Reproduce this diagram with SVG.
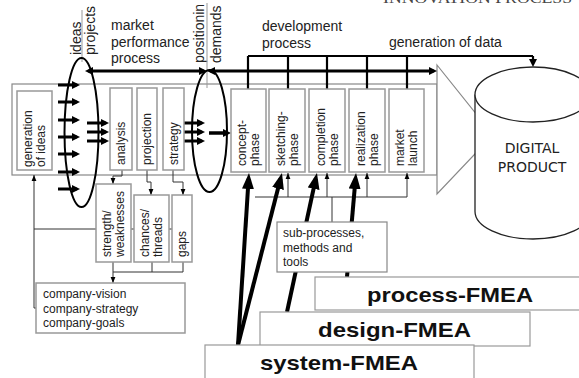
<svg xmlns="http://www.w3.org/2000/svg" width="579" height="378" viewBox="0 0 579 378">
<defs>
<style>
.box{fill:#fff;stroke:#999;stroke-width:1.5}
.frame{fill:#fff;stroke:#888;stroke-width:1.2}
.t{font-family:"Liberation Sans",Arial,sans-serif;fill:#222}
.s12{font-size:12px}
.s14{font-size:14px}
.fm{font-family:"Liberation Sans",Arial,sans-serif;font-weight:bold;font-size:21px;fill:#111;text-anchor:middle}
.thin{fill:none;stroke:#333;stroke-width:1}
.b3{fill:none;stroke:#000;stroke-width:3}
.b2{fill:none;stroke:#000;stroke-width:2.2}
.ell{fill:none;stroke:#000;stroke-width:2}
.fat{fill:none;stroke:#000;stroke-width:4}
.cyl{fill:#fff;stroke:#222;stroke-width:1.3}
</style>
<marker id="ah" markerUnits="userSpaceOnUse" markerWidth="8" markerHeight="8" viewBox="0 0 10 10" refX="6" refY="5" orient="auto-start-reverse"><path d="M0,0 L10,5 L0,10 Z" fill="#000"/></marker>
<marker id="ahs" markerUnits="userSpaceOnUse" markerWidth="6" markerHeight="6" viewBox="0 0 10 10" refX="10" refY="5" orient="auto"><path d="M0,1 L10,5 L0,9 Z" fill="#000"/></marker>
<marker id="ahb" markerUnits="userSpaceOnUse" markerWidth="16" markerHeight="12" viewBox="0 0 16 12" refX="10" refY="6" orient="auto"><path d="M0,0 L16,6 L0,12 Z" fill="#000"/></marker>
</defs>
<rect width="579" height="378" fill="#fff"/>

<text x="383" y="2.5" font-family="'Liberation Serif',serif" font-size="14" fill="#444" textLength="189" lengthAdjust="spacingAndGlyphs">INNOVATION PROCESS</text>

<g id="frame">
<rect class="frame" x="12" y="84" width="425" height="91"/>
<polygon class="frame" points="437,65 493,135 437,194"/>
</g>

<g id="labels">
<text class="t s14" transform="translate(81,55) rotate(-90)">ideas</text>
<text class="t s14" transform="translate(95,55) rotate(-90)">projects</text>
<text class="t s14" transform="translate(204,63) rotate(-90)">positionin</text>
<text class="t s14" transform="translate(221,63) rotate(-90)">demands</text>
<text class="t s14" x="111" y="30">market</text>
<text class="t s14" x="111" y="46.5">performance</text>
<text class="t s14" x="111" y="63">process</text>
<text class="t s14" x="262" y="31">development</text>
<text class="t s14" x="262" y="48">process</text>
<text class="t s14" x="389" y="47">generation of data</text>
</g>

<g id="connectors">
<line x1="82" y1="10" x2="82" y2="62" stroke="#999" stroke-width="1"/>
<line x1="207" y1="3" x2="207" y2="88" stroke="#999" stroke-width="1"/>
<line class="b3" x1="88.2" y1="71" x2="203.8" y2="71" marker-start="url(#ah)" marker-end="url(#ah)"/>
<line class="b3" x1="210.2" y1="71" x2="433.8" y2="71" marker-start="url(#ah)" marker-end="url(#ah)"/>
<path class="b2" d="M248,56 H533 M248,56 V89 M288,56 V89 M327,56 V89 M367,56 V89 M407,56 V89"/>
<line class="b2" x1="533" y1="56" x2="533" y2="63.8" marker-end="url(#ah)"/>
<g class="b3">
<line x1="58" y1="85" x2="76.8" y2="85" marker-end="url(#ah)"/>
<line x1="58" y1="102" x2="76.8" y2="102" marker-end="url(#ah)"/>
<line x1="58" y1="120" x2="76.8" y2="120" marker-end="url(#ah)"/>
<line x1="58" y1="137" x2="76.8" y2="137" marker-end="url(#ah)"/>
<line x1="58" y1="154" x2="76.8" y2="154" marker-end="url(#ah)"/>
<line x1="58" y1="172" x2="76.8" y2="172" marker-end="url(#ah)"/>
<line x1="58" y1="189" x2="76.8" y2="189" marker-end="url(#ah)"/>
<line x1="87" y1="123" x2="105.8" y2="123" marker-end="url(#ah)"/>
<line x1="87" y1="132" x2="105.8" y2="132" marker-end="url(#ah)"/>
<line x1="87" y1="141" x2="105.8" y2="141" marker-end="url(#ah)"/>
<line x1="184" y1="123" x2="201.8" y2="123" marker-end="url(#ah)"/>
<line x1="184" y1="132" x2="201.8" y2="132" marker-end="url(#ah)"/>
<line x1="184" y1="141" x2="201.8" y2="141" marker-end="url(#ah)"/>
<line x1="209" y1="133" x2="227.8" y2="133" stroke-width="3.5" marker-end="url(#ah)"/>
</g>
<path class="thin" d="M122,170 V176 H113 V184" marker-end="url(#ahs)"/>
<path class="thin" d="M147,170 V182 H151 V195" marker-end="url(#ahs)"/>
<path class="thin" d="M173,170 V182 H183 V195" marker-end="url(#ahs)"/>
<path class="thin" d="M183,262 V272 H113 M152,262 V272"/>
<path class="thin" d="M113,262 V283" marker-end="url(#ahs)"/>
<path class="thin" d="M34,229 H172"/>
<path class="thin" d="M36,308 H34 V175" marker-end="url(#ahs)"/>
<path class="thin" d="M255,197 H407 M332,197 V222"/>
<line class="thin" x1="288" y1="197" x2="288" y2="173" marker-end="url(#ahs)"/>
<line class="thin" x1="327" y1="197" x2="327" y2="173" marker-end="url(#ahs)"/>
<line class="thin" x1="367" y1="197" x2="367" y2="173" marker-end="url(#ahs)"/>
<line class="thin" x1="407" y1="197" x2="407" y2="173" marker-end="url(#ahs)"/>
<line class="fat" x1="238" y1="345" x2="248.6" y2="179" marker-end="url(#ahb)"/>
<line class="fat" x1="238" y1="345" x2="280.5" y2="178.8" marker-end="url(#ahb)"/>
<line class="fat" x1="287" y1="312" x2="315.7" y2="178.9" marker-end="url(#ahb)"/>
<line class="fat" x1="347" y1="277" x2="355.5" y2="179" marker-end="url(#ahb)"/>
</g>

<g id="ellipse-ideas"><ellipse class="ell" cx="81.5" cy="132.5" rx="17" ry="74.5"/></g>
<g id="ellipse-positioning"><ellipse class="ell" cx="209.5" cy="131" rx="17.5" ry="61"/></g>

<g id="generation-of-ideas"><rect class="box" x="17" y="91" width="35" height="79"/>
<text class="t s12" transform="translate(32,167) rotate(-90)"><tspan x="0" y="0">generation</tspan><tspan x="0" y="13">of ideas</tspan></text></g>
<g id="analysis"><rect class="box" x="110" y="88" width="22" height="82"/>
<text class="t s12" transform="translate(125,165) rotate(-90)">analysis</text></g>
<g id="projection"><rect class="box" x="137" y="88" width="20" height="82"/>
<text class="t s12" transform="translate(151,165) rotate(-90)">projection</text></g>
<g id="strategy"><rect class="box" x="163" y="88" width="21" height="82"/>
<text class="t s12" transform="translate(177.5,165) rotate(-90)">strategy</text></g>
<g id="concept-phase"><rect class="box" x="231" y="89" width="35" height="83"/>
<text class="t s12" transform="translate(246,166) rotate(-90)"><tspan x="0" y="0">concept-</tspan><tspan x="0" y="13">phase</tspan></text></g>
<g id="sketching-phase"><rect class="box" x="269" y="89" width="36" height="83"/>
<text class="t s12" transform="translate(284.5,166) rotate(-90)"><tspan x="0" y="0">sketching-</tspan><tspan x="0" y="13">phase</tspan></text></g>
<g id="completion-phase"><rect class="box" x="309" y="89" width="36" height="83"/>
<text class="t s12" transform="translate(324.5,166) rotate(-90)"><tspan x="0" y="0">completion</tspan><tspan x="0" y="13">phase</tspan></text></g>
<g id="realization-phase"><rect class="box" x="349" y="89" width="36" height="83"/>
<text class="t s12" transform="translate(364.5,166) rotate(-90)"><tspan x="0" y="0">realization</tspan><tspan x="0" y="13">phase</tspan></text></g>
<g id="market-launch"><rect class="box" x="389" y="89" width="35" height="83"/>
<text class="t s12" transform="translate(404,166) rotate(-90)"><tspan x="0" y="0">market</tspan><tspan x="0" y="13">launch</tspan></text></g>
<g id="strength-weaknesses"><rect class="box" x="96" y="184" width="35" height="78"/>
<text class="t s12" transform="translate(111,257) rotate(-90)"><tspan x="0" y="0">strength/</tspan><tspan x="0" y="13">weaknesses</tspan></text></g>
<g id="chances-threads"><rect class="box" x="134" y="195" width="35" height="67"/>
<text class="t s12" transform="translate(149,257) rotate(-90)"><tspan x="0" y="0">chances/</tspan><tspan x="0" y="13">threads</tspan></text></g>
<g id="gaps"><rect class="box" x="172" y="195" width="20" height="67"/>
<text class="t s12" transform="translate(186,257) rotate(-90)">gaps</text></g>
<g id="company"><rect class="box" x="36" y="283" width="149" height="50"/>
<text class="t s12" x="43" y="298">company-vision</text>
<text class="t s12" x="43" y="312.5">company-strategy</text>
<text class="t s12" x="43" y="327">company-goals</text></g>

<g id="digital-product">
<path class="cyl" d="M475,94.5 V211.5 A58,27.5 0 0 0 591,211.5 V94.5"/>
<ellipse class="cyl" cx="533" cy="94.5" rx="58" ry="27.5"/>
<text x="532" y="153" font-family="'DejaVu Sans',sans-serif" font-size="14" fill="#222" text-anchor="middle">DIGITAL</text>
<text x="532" y="172" font-family="'DejaVu Sans',sans-serif" font-size="14" fill="#222" text-anchor="middle">PRODUCT</text>
</g>

<g id="sub-processes"><rect x="277" y="222" width="110" height="50" fill="#fff" stroke="#888" stroke-width="1.2"/>
<text class="t s12" x="283" y="237">sub-processes,</text>
<text class="t s12" x="283" y="251.5">methods and</text>
<text class="t s12" x="283" y="266">tools</text></g>

<g id="process-FMEA"><rect x="315" y="277" width="270" height="33" fill="#fff" stroke="#999" stroke-width="1.2"/>
<text class="fm" x="450" y="302" textLength="166" lengthAdjust="spacingAndGlyphs">process-FMEA</text></g>
<g id="design-FMEA"><rect x="260" y="312" width="270" height="34" fill="#fff" stroke="#999" stroke-width="1.2"/>
<text class="fm" x="394.5" y="337" textLength="153" lengthAdjust="spacingAndGlyphs">design-FMEA</text></g>
<g id="system-FMEA"><rect x="205" y="345" width="269" height="40" fill="#fff" stroke="#999" stroke-width="1.2"/>
<text class="fm" x="339" y="370" textLength="158" lengthAdjust="spacingAndGlyphs">system-FMEA</text></g>
</svg>
